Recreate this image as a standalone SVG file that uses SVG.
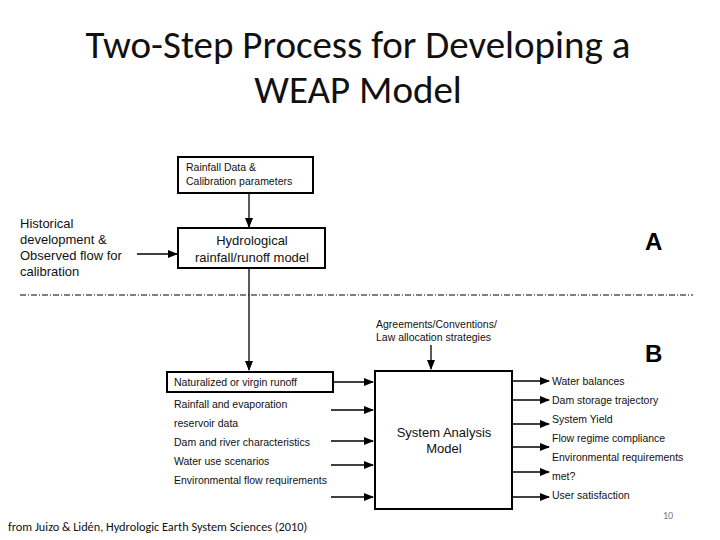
<svg xmlns="http://www.w3.org/2000/svg" width="720" height="540" viewBox="0 0 720 540">
<style>
.t{font-family:"Liberation Sans",Arial,sans-serif;font-size:10.5px;fill:#111}
.m{font-family:"Liberation Sans",Arial,sans-serif;font-size:13px;fill:#111}
.b{fill:#fff;stroke:#000;stroke-width:2}
.c{stroke:#000;stroke-width:1.3;fill:none;marker-end:url(#a)}
</style>
<defs><marker id="a" markerWidth="10" markerHeight="8" refX="9" refY="4" orient="auto" markerUnits="userSpaceOnUse"><path d="M0,0 L10,4 L0,8 z" fill="#000"/></marker></defs>
<rect width="720" height="540" fill="#fff"/>
<text x="358" y="58" text-anchor="middle" font-family="Calibri,'Carlito','Liberation Sans',sans-serif" font-size="39" fill="#111">Two-Step Process for Developing a</text>
<text x="358" y="103" text-anchor="middle" font-family="Calibri,'Carlito','Liberation Sans',sans-serif" font-size="39" fill="#111">WEAP Model</text>
<g id="rainfall"><rect class="b" x="178" y="157" width="135" height="36"/><text class="t" x="186" y="171">Rainfall Data &amp;</text><text class="t" x="186" y="185">Calibration parameters</text></g>
<g id="historical"><text class="m" x="20" y="228">Historical</text><text class="m" x="20" y="244">development &amp;</text><text class="m" x="20" y="260">Observed flow for</text><text class="m" x="20" y="276">calibration</text></g>
<g id="hydro"><rect class="b" x="178" y="228" width="147" height="40"/><text class="m" x="252" y="245" text-anchor="middle">Hydrological</text><text class="m" x="252" y="262" text-anchor="middle">rainfall/runoff model</text></g>
<g id="labelA"><text x="645" y="250" font-family="'Liberation Sans',Arial,sans-serif" font-weight="bold" font-size="24" fill="#000">A</text></g>
<g id="labelB"><text x="645" y="362" font-family="'Liberation Sans',Arial,sans-serif" font-weight="bold" font-size="24" fill="#000">B</text></g>
<line x1="20" y1="295" x2="693" y2="295" stroke="#000" stroke-width="1" stroke-dasharray="6,2,1,2"/>
<g id="agreements"><text class="t" x="376" y="328">Agreements/Conventions/</text><text class="t" x="376" y="341">Law allocation strategies</text></g>
<g id="naturalized"><rect class="b" x="167" y="372" width="166" height="20"/><text class="t" x="174" y="386">Naturalized or virgin runoff</text></g>
<g id="inputs"><text class="t" x="174" y="408">Rainfall and evaporation</text><text class="t" x="174" y="427">reservoir data</text><text class="t" x="174" y="446">Dam and river characteristics</text><text class="t" x="174" y="465">Water use scenarios</text><text class="t" x="174" y="484">Environmental flow requirements</text></g>
<g id="sam"><rect class="b" x="375" y="371" width="137" height="138"/><text class="m" x="444" y="437" text-anchor="middle">System Analysis</text><text class="m" x="444" y="453" text-anchor="middle">Model</text></g>
<g id="outputs"><text class="t" x="552" y="385">Water balances</text><text class="t" x="552" y="404">Dam storage trajectory</text><text class="t" x="552" y="423">System Yield</text><text class="t" x="552" y="442">Flow regime compliance</text><text class="t" x="552" y="461">Environmental requirements</text><text class="t" x="552" y="480">met?</text><text class="t" x="552" y="499">User satisfaction</text></g>
<g id="connectors">
<path class="c" d="M249,193 V227"/>
<path class="c" d="M137,254 H177" stroke-width="2"/>
<path class="c" d="M249,268 V370"/>
<path class="c" d="M431,345 V369"/>
<path class="c" d="M333,382 H373" stroke-width="2"/>
<path class="c" d="M331,410 H373"/>
<path class="c" d="M331,441 H373"/>
<path class="c" d="M331,465 H373"/>
<path class="c" d="M331,497 H373"/>
<path class="c" d="M512,381 H549" stroke-width="2"/>
<path class="c" d="M512,400 H549"/>
<path class="c" d="M512,424 H549"/>
<path class="c" d="M512,447 H549"/>
<path class="c" d="M512,472 H549"/>
<path class="c" d="M512,497 H549"/>
</g>
<text x="8" y="531" font-family="Calibri,'Carlito','Liberation Sans',sans-serif" font-size="12.3" fill="#111">from Juizo &amp; Lidén, Hydrologic Earth System Sciences (2010)</text>
<text x="663" y="519" font-family="Calibri,'Carlito','Liberation Sans',sans-serif" font-size="10" fill="#777">10</text>
</svg>
